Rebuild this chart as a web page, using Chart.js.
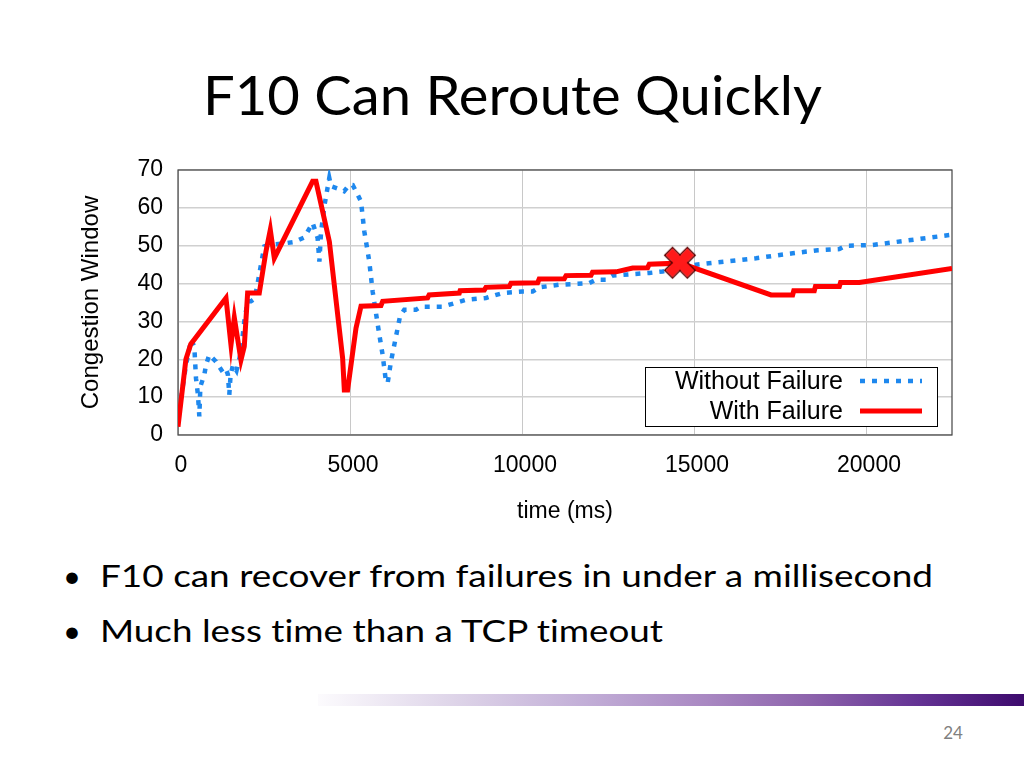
<!DOCTYPE html>
<html>
<head>
<meta charset="utf-8">
<script src="https://cdn.jsdelivr.net/npm/chart.js@4.4.1/dist/chart.umd.min.js"></script>
<style>
  html, body { margin: 0; padding: 0; background: #ffffff; }
  body { width: 1024px; height: 768px; position: relative; overflow: hidden; }
  #chartWrap { position: absolute; left: 0; top: 0; width: 1024px; height: 540px; }
  #overlay { position: absolute; left: 0; top: 0; font-variant-ligatures: none; font-feature-settings: "liga" 0, "clig" 0; }
  #bar { position: absolute; left: 318px; top: 694px; width: 706px; height: 12px;
    background: linear-gradient(to right, rgba(250,248,252,0.6) 0%, #ddd3e8 20%, #c2aed7 38%, #a988c2 55%, #8c62ab 70%, #643394 85%, #3d0a6d 100%); }
</style>
</head>
<body>
<svg id="overlay" width="1024" height="768" xmlns="http://www.w3.org/2000/svg">
  <text x="203" y="115" font-family="Lato" font-size="54" fill="#000" textLength="619" lengthAdjust="spacingAndGlyphs">F10 Can Reroute Quickly</text>
  <text x="72" y="587" font-family="Lato" font-size="31" fill="#000" text-anchor="middle">•</text>
  <text x="100" y="587" font-family="Lato" font-size="31" fill="#000" textLength="833" lengthAdjust="spacingAndGlyphs">F10 can recover from failures in under a millisecond</text>
  <text x="72" y="642" font-family="Lato" font-size="31" fill="#000" text-anchor="middle">•</text>
  <text x="100" y="642" font-family="Lato" font-size="31" fill="#000" textLength="563" lengthAdjust="spacingAndGlyphs">Much less time than a TCP timeout</text>
  <text x="953" y="739" font-family="Lato" font-size="17" fill="#808080" text-anchor="middle">24</text>
</svg>
<div id="bar"></div>
<div id="chartWrap"><canvas id="c" width="1024" height="540"></canvas></div>
<script>
// ---- Data ----
const withFailureTime = [0, 230, 370, 1395, 1540, 1637, 1830, 1927, 2024, 2363, 2557, 2683, 2800, 3914, 4010, 4400, 4786, 4835, 4930, 5174, 5320, 5900, 5950, 7256, 7300, 8178, 8200, 8904, 8950, 9630, 9680, 10455, 10500, 11230, 11280, 12006, 12050, 12733, 13216, 13652, 13700, 14600, 17239, 17867, 17900, 18497, 18530, 19224, 19260, 19805, 22500];
const withFailureValue = [2.2, 20, 24, 36.2, 23.8, 31, 19.8, 23.4, 37.5, 37.5, 48.5, 54.2, 46.7, 67, 67, 51.1, 20.3, 11.9, 11.9, 28.2, 34, 34.2, 35.3, 36.2, 37, 37.5, 38.1, 38.3, 39, 39.2, 40.1, 40.2, 41.2, 41.3, 42.1, 42.2, 43, 43.1, 44.1, 44.2, 45.1, 45.4, 37, 37, 38.1, 38.1, 39.2, 39.2, 40.3, 40.3, 44];

const withoutFailureTime = [0, 87, 233, 378, 474, 523, 580, 620, 650, 765, 814, 910, 1105, 1200, 1297, 1390, 1450, 1491, 1530, 1600, 1700, 1780, 1830, 1927, 2024, 2120, 2230, 2315, 2412, 2508, 2654, 3000, 3381, 3672, 3914, 4059, 4110, 4157, 4253, 4398, 4450, 4738, 4830, 4980, 5080, 5174, 5320, 5416, 5561, 5658, 5852, 5948, 6045, 6094, 6191, 6288, 6385, 6453, 6578, 6918, 7064, 7692, 8372, 8953, 9436, 10018, 10309, 10503, 11085, 11957, 12151, 12442, 12634, 13701, 14088, 15058, 16803, 17867, 18600, 19224, 19418, 20194, 22500];
const withoutFailureValue = [3.5, 9.7, 18.5, 25.1, 23.4, 15, 10.6, 4.9, 12.8, 15.9, 18.5, 21.2, 19.4, 18, 16.7, 17.5, 16, 10.6, 16, 18.5, 17, 20, 22, 30, 35.3, 35.3, 36, 40.1, 45, 49.8, 50.3, 50.5, 51, 52.2, 56, 52, 45.8, 53.4, 60.4, 67.9, 65.7, 64.8, 64.4, 66.1, 66, 64.4, 61.7, 53.8, 45.8, 37.9, 26.5, 21.2, 14.1, 13.7, 19.4, 23.8, 28.2, 31.3, 33.1, 33.1, 33.9, 33.9, 35.7, 36.2, 37.5, 37.9, 37.9, 39, 39.7, 40.1, 41, 41, 42.1, 42.8, 43.2, 45, 46.7, 48, 48.8, 49.1, 50, 50.2, 52.9];

const failureTime = [14590];
const failureValue = [45.5];

const seriesLabels = ['Without Failure', 'With Failure'];
const xTicks = [0, 5000, 10000, 15000, 20000];
const yTicks = [0, 10, 20, 30, 40, 50, 60, 70];
const xTitle = 'time (ms)';
const yTitle = 'Congestion Window';

const toPoints = (xs, ys) => xs.map((x, i) => ({ x: x, y: ys[i] }));

// Red X marker image
function makeCross() {
  const s = 38, cv = document.createElement('canvas');
  cv.width = s; cv.height = s;
  const g = cv.getContext('2d');
  g.translate(s / 2, s / 2);
  const L = 16, w = 5.5;
  g.strokeStyle = '#5a0000';
  g.lineWidth = 1.5;
  for (const a of [Math.PI / 4, -Math.PI / 4]) {
    g.save(); g.rotate(a);
    g.strokeRect(-L, -w, 2 * L, 2 * w);
    g.restore();
  }
  g.fillStyle = '#ff1a1a';
  for (const a of [Math.PI / 4, -Math.PI / 4]) {
    g.save(); g.rotate(a);
    g.fillRect(-L + 0.75, -w + 0.75, 2 * L - 1.5, 2 * w - 1.5);
    g.restore();
  }
  return cv;
}

const BLUE = '#1e88ee';
const RED = '#ff0000';
const FONT = "'Liberation Sans', Arial, sans-serif";

const frameAndLegend = {
  id: 'frameAndLegend',
  beforeDatasetsDraw(chart) {
    const { ctx, chartArea: a } = chart;
    ctx.save();
    ctx.strokeStyle = '#444';
    ctx.lineWidth = 1.2;
    ctx.strokeRect(a.left, a.top, a.right - a.left, a.bottom - a.top);
    ctx.restore();
  },
  afterDraw(chart) {
    const { ctx, chartArea: a } = chart;
    const bx2 = a.right - 14, by2 = a.bottom - 8;
    const bw = 293, bh = 60;
    const bx = bx2 - bw, by = by2 - bh;
    ctx.save();
    ctx.fillStyle = '#fff';
    ctx.fillRect(bx, by, bw, bh);
    ctx.strokeStyle = '#000';
    ctx.lineWidth = 1;
    ctx.strokeRect(bx + 0.5, by + 0.5, bw - 1, bh - 1);
    ctx.font = '25px ' + FONT;
    ctx.fillStyle = '#000';
    ctx.textAlign = 'right';
    ctx.textBaseline = 'middle';
    const rows = [by + 14, by + 44];
    const ds = chart.data.datasets;
    for (let i = 0; i < 2; i++) {
      ctx.fillText(ds[i].label, bx2 - 95, rows[i] + 1);
      ctx.beginPath();
      ctx.strokeStyle = ds[i].borderColor;
      ctx.lineWidth = ds[i].borderWidth;
      ctx.setLineDash(ds[i].borderDash || []);
      ctx.moveTo(bx2 - 78, rows[i]);
      ctx.lineTo(bx2 - 16, rows[i]);
      ctx.stroke();
      ctx.setLineDash([]);
    }
    ctx.restore();
  }
};

new Chart(document.getElementById('c'), {
  type: 'line',
  data: {
    datasets: [
      {
        label: seriesLabels[0],
        data: toPoints(withoutFailureTime, withoutFailureValue),
        borderColor: BLUE,
        borderWidth: 4.5,
        borderDash: [5, 7],
        borderCapStyle: 'butt',
        pointRadius: 0,
        tension: 0,
        fill: false,
        order: 2
      },
      {
        label: seriesLabels[1],
        data: toPoints(withFailureTime, withFailureValue),
        borderColor: RED,
        borderWidth: 5,
        borderJoinStyle: 'miter',
        pointRadius: 0,
        tension: 0,
        fill: false,
        order: 1
      },
      {
        label: 'failure',
        data: toPoints(failureTime, failureValue),
        showLine: false,
        pointStyle: makeCross(),
        pointRadius: 19,
        order: 0
      }
    ]
  },
  options: {
    responsive: false,
    animation: false,
    devicePixelRatio: 1,
    layout: { padding: { left: 73, right: 72, top: 170, bottom: 15 } },
    plugins: { legend: { display: false }, tooltip: { enabled: false } },
    scales: {
      x: {
        type: 'linear',
        min: 0, max: 22500,
        afterFit(s) { s.height = 90; },
        afterBuildTicks(s) { s.ticks = xTicks.map(v => ({ value: v })); },
        ticks: { stepSize: 5000, includeBounds: false, padding: 17, labelOffset: 3, color: '#000', font: { family: FONT, size: 23 }, maxRotation: 0, callback: v => String(v) },
        grid: { color: '#c8c8c8', lineWidth: 1, drawTicks: false },
        border: { display: false },
        title: { display: true, text: xTitle, color: '#000', font: { family: FONT, size: 23 }, padding: { top: 0, bottom: 0 } }
      },
      y: {
        type: 'linear',
        min: 0, max: 70,
        afterFit(s) { s.width = 105; },
        afterBuildTicks(s) { s.ticks = yTicks.map(v => ({ value: v })); },
        ticks: { stepSize: 10, padding: 15, color: '#000', font: { family: FONT, size: 23 }, callback: v => String(v) },
        grid: { color: '#d0d0d0', lineWidth: 1.5, drawTicks: false },
        border: { display: false },
        title: { display: true, text: yTitle, color: '#000', font: { family: FONT, size: 24 }, padding: { top: 4, bottom: 0 } }
      }
    }
  },
  plugins: [frameAndLegend]
});
</script>
</body>
</html>
